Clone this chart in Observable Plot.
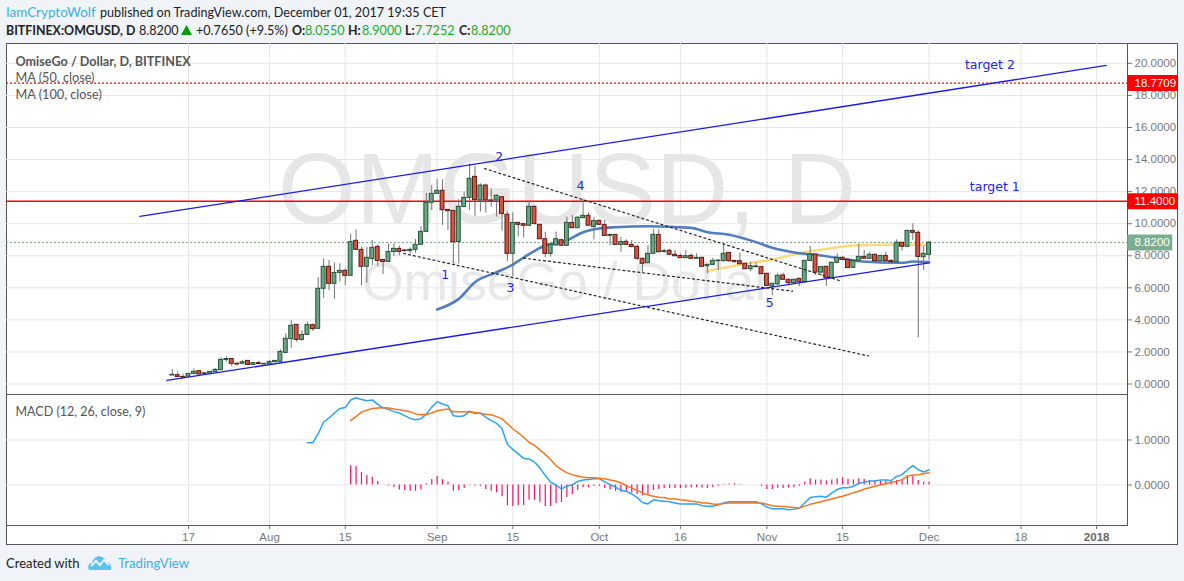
<!DOCTYPE html>
<html><head><meta charset="utf-8">
<script src="https://cdn.jsdelivr.net/npm/d3@7"></script>
<script src="https://cdn.jsdelivr.net/npm/@observablehq/plot@0.6"></script>
<style>
html,body{margin:0;padding:0;background:#f0f3f8;width:1184px;height:581px;overflow:hidden;font-family:Lato,sans-serif}
#page{position:relative;width:1184px;height:581px}
#page span{position:absolute;white-space:nowrap;line-height:18px;font-size:14px;color:#222;transform:scaleX(.9);transform-origin:left center}
.l1{top:3px}
.l2{top:21px}
#page span.b{font-weight:bold;transform:scaleX(.885)}
#page span.g{color:#1fa91f}
#box{position:absolute;left:6px;top:43px;width:1172px;height:502px;box-sizing:border-box;background:#fff;border:1px solid #555}
#page svg{position:absolute;left:0}
</style></head><body><div id="page">
<span class="l1" style="left:6px;color:#3cb1e6;transform:scaleX(.96)">IamCryptoWolf</span>
<span class="l1" style="left:99.5px">published on TradingView.com, December 01, 2017 19:35 CET</span>
<span class="l2 b" style="left:6px">BITFINEX:OMGUSD, D</span>
<span class="l2" style="left:139px">8.8200</span>
<svg style="left:181px;top:25px" width="11" height="10" viewBox="0 0 11 10"><polygon points="5.5,0 11,10 0,10" fill="#0a9a0a"/></svg>
<span class="l2" style="left:196px">+0.7650 (+9.5%)</span>
<span class="l2 b" style="left:292px">O:</span><span class="l2 g" style="left:305px">8.0550</span>
<span class="l2 b" style="left:348px">H:</span><span class="l2 g" style="left:362px">8.9000</span>
<span class="l2 b" style="left:405px">L:</span><span class="l2 g" style="left:415px">7.7252</span>
<span class="l2 b" style="left:459px">C:</span><span class="l2 g" style="left:471px">8.8200</span>
<div id="box"></div>
<span style="left:6px;top:554px;transform:scaleX(.93)">Created with</span>
<svg style="left:88px;top:555px" width="24" height="15" viewBox="0 0 24 15"><path d="M1 15C-1 11 1 8 4 8C5 3 10 0 14 2C17 3 18 6 19 7C22 7 24 11 23 15Z" fill="#5cc3ec"/><path d="M3 11L8 6L12 10L16 5L21 10" fill="none" stroke="#f0f3f8" stroke-width="2"/></svg>
<span style="left:118px;top:554px;color:#3cb1e6;transform:scaleX(.94)">TradingView</span>
</div>
<script>
const opens=[
.53,.55,.44,.46,.63,.80,.63,.65,.74,.86,1.50,1.56,1.26,1.26,1.44,1.19,1.30,1.22,
1.26,1.36,1.38,1.94,2.80,3.69,2.75,3.06,3.67,3.44,5.94,7.31,6.25,6.93,7.06,6.75,8.93,8.37,7.31,7.80,8.55,7.74,7.61,8.24,8.43,8.33,8.30,8.37,8.68,9.49,11.30,
11.86,12.05,10.86,10.80,8.85,11.05,11.61,12.92,11.45,12.38,11.45,11.45,11.65,10.55,8.12,10.05,9.97,9.87,11.05,9.93,9.03,8.12,8.64,8.97,8.62,10.05,9.72,10.35,10.49,9.80,
10.18,9.91,9.24,9.30,8.68,8.87,8.68,8.56,7.81,7.54,8.12,9.30,8.24,8.31,8.06,7.99,7.85,7.99,7.81,7.87,7.35,7.43,7.66,7.66,8.18,7.68,7.66,7.50,7.16,7.33,7.29,
6.87,6.08,6.21,6.77,6.50,6.29,6.56,6.35,7.68,8.08,6.95,7.31,6.62,7.56,7.87,7.74,7.25,7.68,7.93,7.81,8.06,7.66,7.99,7.68,7.60,8.81,8.56,9.55,9.43,7.91,
8.055];
const closes=[
.57,.44,.40,.63,.76,.59,.67,.76,.88,1.50,1.56,1.26,1.22,1.36,1.19,1.30,1.24,1.26,
1.38,1.44,2.00,2.82,3.63,2.75,3.06,3.67,3.42,5.94,7.31,6.25,6.93,7.06,6.75,8.85,8.37,7.31,7.87,8.49,7.68,7.61,8.24,8.43,8.24,8.30,8.37,8.68,9.49,11.30,11.86,
12.05,10.84,10.78,8.85,11.05,11.61,12.80,11.47,12.38,11.45,11.43,11.74,10.61,8.12,10.05,9.93,9.87,11.05,9.97,9.03,8.12,8.68,9.03,8.62,10.05,9.72,10.37,10.49,9.87,10.16,
9.93,9.24,9.30,8.68,8.85,8.68,8.54,7.81,7.50,8.12,9.30,8.22,8.29,8.06,7.97,7.85,7.97,7.81,7.87,7.31,7.43,7.68,7.70,8.12,7.66,7.60,7.47,7.16,7.35,7.29,6.85,
6.12,6.25,6.75,6.50,6.29,6.50,6.35,7.68,8.08,6.95,7.29,6.60,7.56,7.87,7.74,7.23,7.68,7.93,7.81,8.06,7.66,7.99,7.66,7.60,8.81,8.56,9.55,9.43,7.93,8.12,
8.82];
const highs=[
.90,.76,.61,.65,.94,.82,.72,.78,.96,1.65,1.71,1.58,1.36,1.46,1.46,1.32,1.42,1.28,
1.46,1.46,2.15,3.13,3.96,3.71,3.33,3.87,3.75,6.64,7.81,7.70,7.56,7.50,7.18,9.33,9.62,8.53,8.53,8.95,8.68,7.78,8.74,8.74,8.60,8.37,8.49,9.01,9.82,11.90,12.38,
12.76,12.74,10.90,10.82,11.49,11.97,13.73,13.57,12.48,12.46,12.17,11.80,11.70,10.72,10.68,10.10,10.00,11.41,11.10,9.97,9.47,8.72,9.47,9.03,10.41,10.51,10.45,11.55,10.66,10.37,
10.20,10.20,9.35,9.32,9.16,8.99,8.95,8.64,7.85,8.64,9.62,9.62,8.40,8.40,8.33,8.10,8.33,8.12,8.12,7.90,7.45,7.83,7.75,8.74,8.20,7.72,8.16,7.52,7.60,7.56,7.31,
6.90,6.30,6.91,6.91,6.55,6.55,6.60,7.72,8.58,8.10,7.35,7.35,7.60,8.12,7.95,7.78,7.72,8.70,8.33,8.22,8.10,8.03,8.22,7.75,8.99,8.85,9.60,9.99,9.58,8.60,
8.90];
const lows=[
.53,.44,.40,.46,.60,.59,.60,.63,.72,.86,1.36,1.09,1.11,1.24,1.17,1.17,1.22,1.20,
1.24,1.34,1.38,1.94,2.23,2.61,2.67,3.04,3.29,3.44,5.35,5.83,5.29,6.35,6.14,6.75,8.35,6.14,6.29,7.39,7.33,6.83,7.61,7.95,7.99,8.20,8.10,8.16,8.68,9.49,10.82,
11.82,9.89,9.57,7.49,7.49,11.02,10.82,10.45,10.72,10.66,11.03,10.41,9.53,7.64,6.70,9.16,9.10,9.85,9.95,9.00,7.87,7.91,8.60,8.58,8.60,9.70,9.70,10.30,9.85,8.99,
9.90,9.20,8.64,8.66,8.22,8.66,8.50,7.70,6.91,7.50,8.10,8.20,8.16,8.04,7.95,7.83,7.83,7.79,7.79,7.29,6.87,7.40,7.08,7.60,7.60,7.55,7.45,7.14,7.00,7.27,6.83,
6.10,5.52,6.15,6.48,6.20,6.20,6.08,6.35,7.66,6.77,6.73,6.08,6.55,7.50,7.70,7.20,7.22,7.60,7.78,7.78,7.60,7.62,7.60,7.43,7.58,8.29,8.50,8.95,2.88,7.08,
7.7252];
// MACD line from 2017-08-08
const macdLine=[
.94,.94,1.14,1.40,1.49,1.60,1.70,1.72,1.89,1.94,1.90,1.87,1.89,1.79,1.71,1.68,1.63,1.60,1.54,1.48,1.45,1.47,1.58,1.73,1.85,1.80,1.76,1.54,1.52,1.54,1.64,1.59,1.60,1.51,1.43,1.37,1.25,.90,.79,.69,.59,.58,.51,.38,.21,.06,0,-.09,-.02,0,.08,.11,.12,.14,.14,.07,.01,-.05,
-.12,-.14,-.20,-.28,-.39,-.42,-.33,-.35,-.36,-.37,-.40,-.42,-.42,-.42,-.42,-.46,-.47,-.47,-.44,-.40,-.37,-.37,-.37,-.37,-.37,-.37,-.42,-.49,-.53,-.53,-.53,-.55,-.54,-.51,-.40,-.28,-.26,-.25,-.27,-.18,-.10,-.06,-.06,-.03,.04,.06,.09,.09,.11,.11,.10,.19,.23,.34,.43,.34,.29,.34];
// signal line from 2017-08-16
const signalLine=[
1.43,1.52,1.62,1.66,1.70,1.71,1.72,1.71,1.69,1.67,1.65,1.63,1.58,1.56,1.57,1.60,1.65,1.67,1.69,1.63,1.63,1.63,1.62,1.61,1.59,1.57,1.56,1.52,1.47,1.36,1.25,1.16,1.06,.95,.88,.78,.68,.56,.43,.34,.27,.23,.20,.17,.16,.16,.15,.14,.11,.09,
.05,-.02,-.07,-.12,-.18,-.22,-.25,-.27,-.28,-.31,-.31,-.33,-.34,-.36,-.37,-.40,-.40,-.42,-.43,-.41,-.40,-.40,-.40,-.40,-.40,-.40,-.40,-.43,-.46,-.47,-.48,-.49,-.50,-.51,-.47,-.43,-.40,-.37,-.34,-.31,-.28,-.25,-.21,-.17,-.14,-.09,-.06,-.03,0,.03,.06,.08,.12,.20,.22,.23,.25,.27];
// histogram from 2017-08-16
const histogram=[
.43,.41,.28,.21,.17,.08,0,-.02,-.06,-.11,-.12,-.14,-.14,-.11,.03,.12,.19,.12,.06,-.14,-.12,-.08,.01,-.02,-.03,-.10,-.14,-.17,-.26,-.46,-.48,-.46,-.46,-.34,-.34,-.39,-.48,-.48,-.41,-.39,-.28,-.21,-.12,-.06,-.06,-.03,-.03,-.08,-.11,-.14,
-.16,-.16,-.18,-.21,-.24,-.22,-.12,-.10,-.08,-.08,-.08,-.08,-.07,-.06,-.06,-.07,-.08,-.06,-.03,.01,.02,.03,.01,0,0,0,-.03,-.10,-.10,-.07,-.08,-.07,-.06,-.03,.06,.14,.11,.11,.09,.11,.14,.16,.12,.11,.14,.12,.10,.10,.09,.09,.09,.10,.12,.19,.20,.10,.06,.06];
const ma50Dates=["2017-09-01","2017-09-05","2017-09-08","2017-09-12","2017-09-15","2017-09-17","2017-09-21","2017-09-25","2017-09-28","2017-10-01","2017-10-04","2017-10-10","2017-10-18","2017-10-21","2017-10-25","2017-10-30","2017-11-02","2017-11-07","2017-11-11","2017-11-15","2017-11-18","2017-11-26","2017-11-28","2017-12-01"];
const ma50Values=[4.65,5.31,6.35,6.97,7.45,7.89,8.64,8.95,9.47,9.70,9.78,9.84,9.74,9.47,9.31,8.85,8.50,8.16,8.02,7.81,7.66,7.56,7.64,7.60];
const ma100Dates=["2017-10-21","2017-10-28","2017-11-02","2017-11-07","2017-11-09","2017-11-13","2017-11-17","2017-11-23","2017-11-28","2017-12-01"];
const ma100Values=[7.05,7.50,7.77,8.16,8.28,8.47,8.64,8.68,8.68,8.68];
const channels=[
 [["2017-07-13T00:00Z",.22],["2017-12-01T00:00Z",7.56]],
 [["2017-07-08T00:00Z",10.45],["2018-01-02T18:00Z",19.87]]];
const dotted=[
 [["2017-09-09T18:00Z",13.44],["2017-11-14T19:00Z",6.41]],
 [["2017-08-25T19:00Z",8.14],["2017-11-19T19:00Z",1.75]],
 [["2017-09-17T00:00Z",7.85],["2017-11-05T18:00Z",5.79]]];
const notes=[["target 2","2017-12-12T06:00Z",19.87],["target 1","2017-12-13T04:00Z",12.26],["1","2017-09-02T12:00Z",6.83],["2","2017-09-12T12:00Z",14.13],["3","2017-09-14T14:00Z",5.96],["4","2017-09-27T12:00Z",12.32],["5","2017-11-01T12:00Z",5.08]];
const xTickDates=["2017-07-17","2017-08-01","2017-08-15","2017-09-01","2017-09-15","2017-10-01","2017-10-16","2017-11-01","2017-11-15","2017-12-01","2017-12-18","2018-01-01"];
const xTickLabels=["17","Aug","15","Sep","15","Oct","16","Nov","15","Dec","18","2018"];
const priceTicks=[0,2,4,6,8,10,12,14,16,18,20];
const macdTicks=[0,1];
const tags=[[18.7709,"18.7709","#ff0000",1],[11.4,"11.4000","#ff0000",1],[8.82,"8.8200","#6ba583",.9]];

const D=s=>new Date(s);
const day=864e5;
const start=Date.UTC(2017,6,14);
const candles=opens.map((o,i)=>({date:new Date(start+i*day),o,h:highs[i],l:lows[i],c:closes[i],up:closes[i]>=o}));
const macdStart=Date.UTC(2017,7,8), sigStart=Date.UTC(2017,7,16);
const macdData=macdLine.map((v,i)=>({date:new Date(macdStart+i*day),v}));
const sigData=signalLine.map((v,i)=>({date:new Date(sigStart+i*day),v}));
const histData=histogram.map((v,i)=>({date:new Date(sigStart+i*day),v}));
const xTicks=xTickDates.map(D);
const xDomain=[D("2017-06-13T08:00Z"),D("2018-01-06T17:00Z")];
const xEdge=xDomain[1], xOuter=D("2018-01-16T02:00Z");
const FONT="Liberation Sans, Arial, sans-serif", LEG="Lato, sans-serif", NOTE="DejaVu Sans, sans-serif";
const xScale={type:"utc",domain:xDomain,axis:null};
const grid="#e6e6e6", ink="#555";
const hw=.36*day;

const price=Plot.plot({
 width:1184,height:351,marginLeft:6,marginRight:57,marginTop:0,marginBottom:0,
 style:{background:"transparent",overflow:"visible",fontFamily:FONT,fontSize:"11px"},
 x:xScale,
 y:{domain:[-.655,21.24],axis:null},
 marks:[
  Plot.text(["OMGUSD, D"],{frameAnchor:"middle",dy:-28,fontSize:100,fill:"#e6e6e6"}),
  Plot.text(["OmiseGo / Dollar"],{frameAnchor:"middle",dy:64,fontSize:53.5,fill:"#e8e8e8"}),
  Plot.gridX(xTicks,{stroke:grid,strokeOpacity:1}),
  Plot.gridY(priceTicks,{stroke:grid,strokeOpacity:1}),
  Plot.text(["OmiseGo / Dollar, D, BITFINEX"],{frameAnchor:"top-left",dx:9,dy:18,lineAnchor:"middle",fontFamily:LEG,fontWeight:"bold",fontSize:12.6,fill:"#555"}),
  Plot.text(["MA (50, close)"],{frameAnchor:"top-left",dx:9,dy:34,lineAnchor:"middle",fontFamily:LEG,fontSize:12.7,fill:"#555"}),
  Plot.text(["MA (100, close)"],{frameAnchor:"top-left",dx:9,dy:51,lineAnchor:"middle",fontFamily:LEG,fontSize:12.7,fill:"#555"}),
  Plot.ruleY([18.7709],{stroke:"#ff0000",strokeDasharray:"2 2",strokeWidth:1.2}),
  Plot.ruleY([11.4],{stroke:"#ff0000",strokeWidth:1.3}),
  Plot.ruleY([8.82],{stroke:"#6ba583",strokeDasharray:"2 2"}),
  Plot.line(ma100Dates.map((d,i)=>[D(d),ma100Values[i]]),{x:"0",y:"1",stroke:"#fbd97c",strokeWidth:2.5,curve:"monotone-x"}),
  Plot.line(ma50Dates.map((d,i)=>[D(d),ma50Values[i]]),{x:"0",y:"1",stroke:"#3f6fb8",strokeWidth:2.6,strokeOpacity:.9,curve:"monotone-x"}),
  Plot.ruleX(candles,{x:"date",y1:"l",y2:"h",stroke:"#737375",strokeWidth:1}),
  Plot.rect(candles,{x1:d=>new Date(+d.date-hw),x2:d=>new Date(+d.date+hw),y1:"o",y2:"c",
    fill:d=>d.up?"#6ba583":"#d75442",stroke:d=>d.up?"#225437":"#5b1a13",strokeWidth:1}),
  ...channels.map(l=>Plot.line(l.map(p=>[D(p[0]),p[1]]),{x:"0",y:"1",stroke:"#1a1aee",strokeWidth:1.3})),
  ...dotted.map(l=>Plot.line(l.map(p=>[D(p[0]),p[1]]),{x:"0",y:"1",stroke:"#222",strokeWidth:1.2,strokeDasharray:"2 3"})),
  Plot.text(notes,{x:d=>D(d[1]),y:"2",text:"0",fill:"#2222ee",fontSize:12.5,fontFamily:NOTE}),
  Plot.frame({anchor:"right",stroke:ink}),
  Plot.axisY(priceTicks,{anchor:"right",tickFormat:d3.format(".4f"),label:null,tickSize:4,tickPadding:3,color:"#777",fontSize:11.5}),
  Plot.ruleY(tags,{y:"0",x1:()=>xEdge,x2:d=>new Date(+xOuter-(d[3]===.9?5*864e5*.2:0)),stroke:"2",strokeWidth:16,strokeOpacity:"3"}),
  Plot.text(tags,{y:"0",x:()=>xEdge,text:"1",dx:7,textAnchor:"start",fill:"#fff",fontSize:11.5})
 ]});
price.style.top="43px";
document.getElementById("page").appendChild(price);

const macd=Plot.plot({
 width:1184,height:151,marginLeft:6,marginRight:57,marginTop:0,marginBottom:20,
 style:{background:"transparent",overflow:"visible",fontFamily:FONT,fontSize:"11px"},
 x:xScale,
 y:{domain:[-.9,2.011],axis:null},
 marks:[
  Plot.gridX(xTicks,{stroke:grid,strokeOpacity:1}),
  Plot.gridY(macdTicks,{stroke:grid,strokeOpacity:1}),
  Plot.text(["MACD (12, 26, close, 9)"],{frameAnchor:"top-left",dx:9,dy:17,lineAnchor:"middle",fontFamily:LEG,fontSize:12.5,fill:"#555"}),
  Plot.ruleX(histData.filter(d=>d.v!==0),{x:"date",y1:0,y2:"v",stroke:"#f5106a",strokeWidth:1.2}),
  Plot.line(macdData,{x:"date",y:"v",stroke:"#2ea3f2",strokeWidth:1.5}),
  Plot.line(sigData,{x:"date",y:"v",stroke:"#f5761f",strokeWidth:1.5}),
  Plot.frame({anchor:"top",stroke:ink}),
  Plot.frame({anchor:"bottom",stroke:ink}),
  Plot.frame({anchor:"right",stroke:ink}),
  Plot.axisY(macdTicks,{anchor:"right",tickFormat:d3.format(".4f"),label:null,tickSize:4,tickPadding:3,color:"#777",fontSize:11.5}),
  Plot.axisX(xTicks.slice(0,-1),{anchor:"bottom",tickFormat:(d,i)=>xTickLabels[i],label:null,tickSize:4,tickPadding:3,color:"#777",fontSize:11.5}),
  Plot.axisX(xTicks.slice(-1),{anchor:"bottom",tickFormat:()=>xTickLabels[11],label:null,tickSize:4,tickPadding:3,color:"#666",fontSize:11.5,fontWeight:"bold"})
 ]});
macd.style.top="394px";
document.getElementById("page").appendChild(macd);
</script></body></html>
